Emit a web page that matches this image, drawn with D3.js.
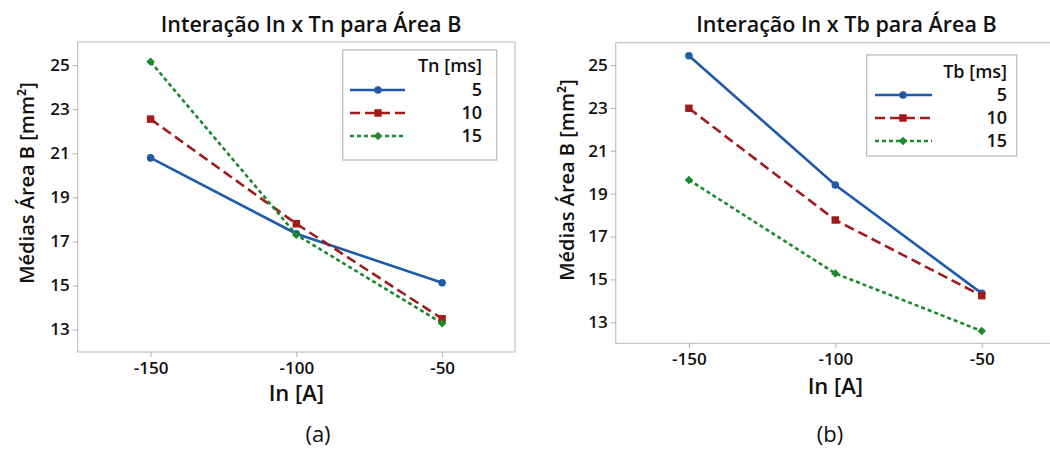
<!DOCTYPE html>
<html>
<head>
<meta charset="utf-8">
<script src="https://cdn.jsdelivr.net/npm/d3@7"></script>
<style>
  html, body { margin: 0; padding: 0; background: #fff; }
  svg { display: block; font-family: "Open Sans", "Noto Sans", sans-serif; }
</style>
</head>
<body>
<svg id="chart" width="1050" height="450"></svg>
<script>
// ---- data ----
const xCategories = [-150, -100, -50];
const xTickLabels = ["-150", "-100", "-50"];
const yTickValues = [13, 15, 17, 19, 21, 23, 25];
const levelLabels = ["5", "10", "15"];

// (a) In x Tn
const tn5 = [20.79, 17.35, 15.12];
const tn10 = [22.55, 17.80, 13.49];
const tn15 = [25.15, 17.30, 13.29];

// (b) In x Tb
const tb5 = [25.43, 19.40, 14.35];
const tb10 = [22.98, 17.77, 14.24];
const tb15 = [19.64, 15.28, 12.59];

const panelTitles = ["Interação In x Tn para Área B", "Interação In x Tb para Área B"];
const legendTitles = ["Tn [ms]", "Tb [ms]"];
const captions = ["(a)", "(b)"];
const xLabel = "In [A]";
const yLabel = "Médias Área B [mm²]";

// ---- styles ----
const colors = ["#1f5aa8", "#a01c1c", "#1a8a2c"];
const dashes = [null, "10,5", "4,3"];
const symbols = [d3.symbolCircle, d3.symbolSquare, d3.symbolSquare];
const symSizes = [45, 56, 36];
const symRot = [0, 0, 45];

const svg = d3.select("#chart");

const panels = [
  { series: [tn5, tn10, tn15], left: 77.7, right: 515, top: 42, bottom: 352,
    yDomain: [11.98, 26.05], titleX: 311, ylabX: 27, ylabY: 183, xlabY: 401, capX: 318,
    legend: { x0: 342.7, x1: 496.7, y0: 50, y1: 160, titleY: 72, textX: 482, rows: [90, 113, 136], lineX0: 350, lineX1: 405, markX: 378 } },
  { series: [tb5, tb10, tb15], left: 615.7, right: 1055, top: 42.7, bottom: 343.3,
    yDomain: [12.02, 26.04], titleX: 846.5, ylabX: 567, ylabY: 180, xlabY: 394, capX: 830,
    legend: { x0: 866.7, x1: 1016.7, y0: 55, y1: 156, titleY: 78, textX: 1007, rows: [95, 118, 141], lineX0: 875, lineX1: 932, markX: 903 } }
];

panels.forEach((p, pi) => {
  const g = svg.append("g");
  const x = d3.scaleLinear().domain([-175, -25]).range([p.left, p.right]);
  const y = d3.scaleLinear().domain(p.yDomain).range([p.bottom, p.top]);

  // frame
  g.append("rect")
    .attr("x", p.left).attr("y", p.top)
    .attr("width", p.right - p.left).attr("height", p.bottom - p.top)
    .attr("fill", "none").attr("stroke", "#c4c4c4").attr("stroke-width", 1.2);

  // axes
  const yAxis = d3.axisLeft(y).tickValues(yTickValues).tickSize(5).tickPadding(3).tickFormat(d3.format("d"));
  const ya = g.append("g").attr("transform", `translate(${p.left},0)`).call(yAxis);
  const xAxis = d3.axisBottom(x).tickValues(xCategories).tickSize(5).tickPadding(5)
    .tickFormat((d, i) => xTickLabels[i]);
  const xa = g.append("g").attr("transform", `translate(0,${p.bottom})`).call(xAxis);
  [ya, xa].forEach(a => {
    a.select(".domain").remove();
    a.selectAll(".tick line").attr("stroke", "#b0b0b0");
    a.selectAll(".tick text").attr("fill", "#111").style("font-size", "17px").style("font-weight", 600)
      .style("font-family", "'Open Sans', sans-serif");
  });

  // lines
  const line = d3.line().x((d, i) => x(xCategories[i])).y(d => y(d));
  p.series.forEach((s, si) => {
    g.append("path").datum(s).attr("d", line)
      .attr("fill", "none").attr("stroke", colors[si]).attr("stroke-width", 2.6)
      .attr("stroke-dasharray", dashes[si]);
  });
  p.series.forEach((s, si) => {
    g.selectAll(null).data(s).enter().append("path")
      .attr("d", d3.symbol().type(symbols[si]).size(symSizes[si]))
      .attr("transform", (d, i) => `translate(${x(xCategories[i])},${y(d)}) rotate(${symRot[si]})`)
      .attr("fill", colors[si]);
  });

  // legend
  const L = p.legend;
  g.append("rect").attr("x", L.x0).attr("y", L.y0).attr("width", L.x1 - L.x0).attr("height", L.y1 - L.y0)
    .attr("fill", "#fff").attr("stroke", "#b8b8b8").attr("stroke-width", 1.2);
  g.append("text").attr("x", L.textX).attr("y", L.titleY).attr("text-anchor", "end")
    .style("font-size", "18px").style("font-weight", 600).attr("fill", "#111").text(legendTitles[pi]);
  levelLabels.forEach((lab, si) => {
    const ry = L.rows[si];
    g.append("line").attr("x1", L.lineX0).attr("x2", L.lineX1).attr("y1", ry).attr("y2", ry)
      .attr("stroke", colors[si]).attr("stroke-width", 2.6).attr("stroke-dasharray", dashes[si]);
    g.append("path").attr("d", d3.symbol().type(symbols[si]).size(symSizes[si]))
      .attr("transform", `translate(${L.markX},${ry}) rotate(${symRot[si]})`).attr("fill", colors[si]);
    g.append("text").attr("x", L.textX).attr("y", ry + 6).attr("text-anchor", "end")
      .style("font-size", "18px").style("font-weight", 600).attr("fill", "#111").text(lab);
  });

  // titles and labels
  g.append("text").attr("x", p.titleX).attr("y", 32).attr("text-anchor", "middle")
    .style("font-size", "21.5px").style("font-weight", 600).attr("fill", "#111").text(panelTitles[pi]);
  g.append("text").attr("transform", `translate(${p.ylabX + 7},${p.ylabY}) rotate(-90)`)
    .attr("text-anchor", "middle").style("font-size", "20px").style("font-weight", 600)
    .attr("fill", "#111").text(yLabel);
  g.append("text").attr("x", (p.left + Math.min(p.right, 1050 + 5)) / 2).attr("y", p.xlabY)
    .attr("text-anchor", "middle").style("font-size", "22px").style("font-weight", 600)
    .attr("fill", "#111").text(xLabel);
  g.append("text").attr("x", p.capX).attr("y", 442).attr("text-anchor", "middle")
    .style("font-size", "22px").attr("fill", "#111").text(captions[pi]);
});
</script>
</body>
</html>
